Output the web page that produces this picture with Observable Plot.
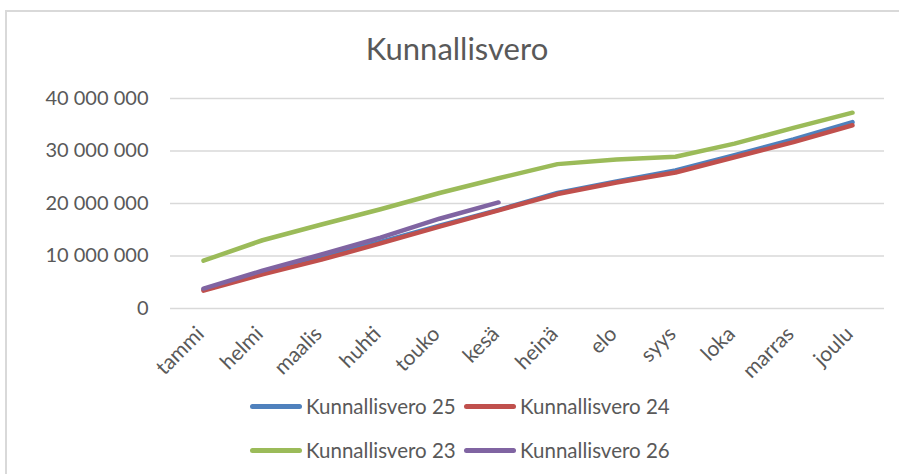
<!DOCTYPE html>
<html>
<head>
<meta charset="utf-8">
<script src="https://cdn.jsdelivr.net/npm/d3@7"></script>
<script src="https://cdn.jsdelivr.net/npm/@observablehq/plot@0.6"></script>
<style>
  html, body { margin: 0; padding: 0; background: #fff; }
  #wrap { position: relative; width: 899px; height: 474px; overflow: hidden; font-family: Lato, "Open Sans", sans-serif; color: #595959; }
  #frame { position: absolute; left: 5px; top: 10px; width: 1000px; height: 600px; border-left: 2px solid #d9d9d9; border-top: 2px solid #d9d9d9; box-sizing: border-box; }
  #title { position: absolute; left: 0; width: 914px; top: 28px; text-align: center; font-size: 31px; line-height: 40px; }
  #chart { position: absolute; left: 0; top: 0; }
  .leg { position: absolute; font-size: 20.5px; line-height: 24px; white-space: nowrap; display: flex; align-items: center; }
  .sw { display: inline-block; width: 52px; height: 5px; border-radius: 3px; margin-right: 4px; }
</style>
</head>
<body>
<div id="wrap">
  <div id="frame"></div>
  <div id="title">Kunnallisvero</div>
  <div id="chart"></div>
  <div id="legend"></div>
</div>
<script>
const months = ["tammi","helmi","maalis","huhti","touko","kesä","heinä","elo","syys","loka","marras","joulu"];
const kv25 = [3600000, 6900000, 9800000, 12700000, 15800000, 18800000, 22000000, 24200000, 26300000, 29200000, 32200000, 35500000];
const kv24 = [3400000, 6500000, 9300000, 12400000, 15600000, 18700000, 21800000, 24000000, 25900000, 28800000, 31700000, 34900000];
const kv23 = [9100000, 13000000, 16000000, 18900000, 22000000, 24800000, 27500000, 28400000, 28900000, 31400000, 34400000, 37300000];
const kv26 = [3800000, 7200000, 10300000, 13500000, 17100000, 20200000];
const seriesNames = ["Kunnallisvero 25", "Kunnallisvero 24", "Kunnallisvero 23", "Kunnallisvero 26"];
const yTicks = [0, 10000000, 20000000, 30000000, 40000000];

const colors = ["#4F81BD", "#C0504D", "#9BBB59", "#8064A2"];
const seriesValues = [kv25, kv24, kv23, kv26];
const rows = [];
seriesValues.forEach((vals, si) => {
  vals.forEach((v, i) => rows.push({series: seriesNames[si], month: months[i], value: v}));
});

const fmt = d => d3.format(",")(d).replace(/,/g, " ");

const chart = Plot.plot({
  width: 899,
  height: 400,
  marginTop: 98,
  marginBottom: 92,
  marginLeft: 170,
  marginRight: 15,
  style: { fontFamily: "Lato, 'Open Sans', sans-serif", color: "#595959", background: "transparent", overflow: "visible" },
  x: { type: "point", domain: months, padding: 0.5 },
  y: { domain: [0, 40000000] },
  color: { domain: seriesNames, range: colors },
  marks: [
    Plot.gridY(yTicks, { stroke: "#d9d9d9", strokeOpacity: 1, strokeWidth: 1.5 }),
    Plot.axisY(yTicks, { tickSize: 0, tickPadding: 22, tickFormat: fmt, fontSize: 20, label: null }),
    Plot.axisX({ tickSize: 0, tickRotate: -45, tickPadding: 22, dx: -3, fontSize: 21, label: null }),
    ...seriesNames.map(name => Plot.line(rows.filter(r => r.series === name), {
      x: "month", y: "value", stroke: "series", strokeWidth: 4.5, strokeLinecap: "round", strokeLinejoin: "round"
    }))
  ]
});
document.getElementById("chart").appendChild(chart);

const legend = document.getElementById("legend");
const pos = [[250, 394], [464, 394], [250, 438], [464, 438]];
seriesNames.forEach((name, i) => {
  const d = document.createElement("div");
  d.className = "leg";
  d.style.left = pos[i][0] + "px";
  d.style.top = pos[i][1] + "px";
  d.innerHTML = `<span class="sw" style="background:${colors[i]}"></span><span>${name}</span>`;
  legend.appendChild(d);
});
</script>
</body>
</html>
